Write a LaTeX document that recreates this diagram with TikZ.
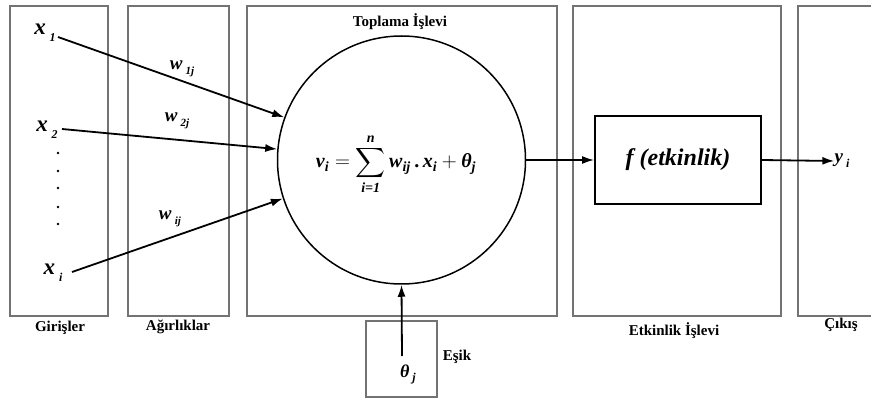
\documentclass[tikz,border=0pt]{standalone}
\usepackage{amsmath}
\usepackage{fontspec}
\setmainfont{Liberation Serif}
\usetikzlibrary{arrows.meta}
\newcommand{\bix}[1]{\textbf{\textit{#1}}}
\newcommand{\fsz}[1]{\fontsize{#1}{#1}\selectfont}
\begin{document}
\begin{tikzpicture}[x=1pt,y=-1pt,
  panel/.style={draw=black!55, line width=1.1pt},
  lbl/.style={font=\fsz{15}\bfseries, text=black, inner sep=1pt},
  conn/.style={line width=1.8pt, -{Latex[length=12pt,width=8pt]}},
  var/.style={inner sep=0pt}
]
\useasboundingbox (0,0) rectangle (871,398);
% panels
\draw[panel] (10,6) rectangle (108,316);
\draw[panel] (128,6) rectangle (229,316);
\draw[panel] (247,6) rectangle (557,316);
\draw[panel] (573,6) rectangle (781,316);
\draw[panel] (871,6) -| (798,316) -- (871,316);
% panel labels
\node[lbl] (gir) at (60,328) {Girişler};
\node[lbl] (agr) at (178,327) {Ağırlıklar};
\node[lbl] (top) at (400,22) {Toplama İşlevi};
\node[lbl] (etk) at (674,331) {Etkinlik İşlevi};
\node[lbl] (cik) at (841,325) {Çıkış};
\node[lbl] (esk) at (457,357) {Eşik};
% summation circle
\node[draw, circle, line width=1.5pt, minimum size=248pt, inner sep=0pt] (sum) at (401.5,160) {};
\node[inner sep=0pt] (fml) at (396,164) {\fsz{20}$\bix{v}_{\bix{i}} = \displaystyle\sum_{\bix{i=1}}^{\bix{n}} \bix{w}_{\bix{ij}}\,\textbf{.}\,\bix{x}_{\bix{i}} + \bix{θ}_{\bix{j}}$};
% activation box
\node[draw, line width=1.8pt, minimum width=166pt, minimum height=88pt, inner sep=0pt] (fbox) at (678,160) {\fsz{24}\bix{f (etkinlik)}};
% threshold box
\node[panel, minimum width=71pt, minimum height=76pt, inner sep=0pt] (esbox) at (401.5,359) {};
\node[var] (theta) at (408,374) {\fsz{18}\bix{θ}\,\raisebox{-4pt}{\fsz{12}\bix{j}}};
\coordinate (t0) at (402,356);
\draw[conn] (t0) -- (sum.south);
% inputs
\node[var] (x1) at (45,33) {\fsz{23}\bix{x}\,\raisebox{-7pt}{\fsz{12}\bix{1}}};
\node[var] (x2) at (47,130) {\fsz{23}\bix{x}\,\raisebox{-7pt}{\fsz{12}\bix{2}}};
\node[var] (xi) at (53,273) {\fsz{23}\bix{x}\,\raisebox{-7pt}{\fsz{12}\bix{i}}};
\coordinate (s1) at (58,37);
\coordinate (s2) at (62,129);
\coordinate (s3) at (72,272);
\foreach \yy in {153,171,188,207,224} \fill (58,\yy) circle (1.3pt);
\draw[conn] (s1) -- (sum.160);
\draw[conn] (s2) -- (sum.175);
\draw[conn] (s3) -- (sum.198);
% weights
\node[var] (w1) at (182,69) {\fsz{19}\bix{w}\,\raisebox{-5pt}{\fsz{11}\bix{1j}}};
\node[var] (w2) at (177,121) {\fsz{19}\bix{w}\,\raisebox{-5pt}{\fsz{11}\bix{2j}}};
\node[var] (wi) at (170,219) {\fsz{19}\bix{w}\,\raisebox{-5pt}{\fsz{11}\bix{ij}}};
% output
\node[var] (yi) at (842,161) {\fsz{19}\bix{y}\,\raisebox{-5pt}{\fsz{12}\bix{i}}};
\draw[conn] (sum.east) -- (fbox.west);
\draw[conn] (fbox.east) -- (yi.west);
\end{tikzpicture}
\end{document}
